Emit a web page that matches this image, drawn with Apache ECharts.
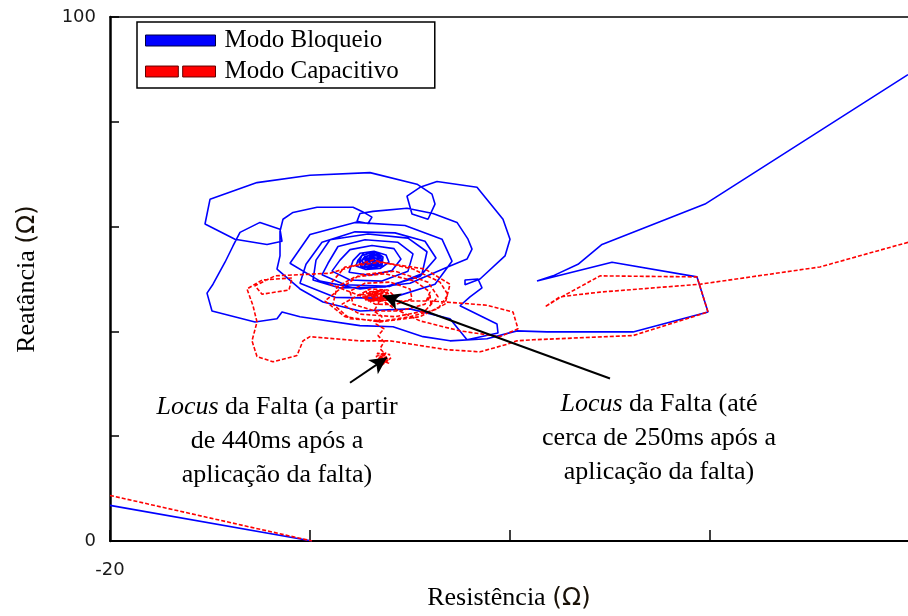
<!DOCTYPE html>
<html><head><meta charset="utf-8">
<script src="https://cdn.jsdelivr.net/npm/echarts@6/dist/echarts.min.js"></script>
<style>html,body{margin:0;padding:0;background:#fff}#c{width:908px;height:616px}</style>
</head><body><div id="c"></div>
<script>
// Axis ranges / ticks / tick labels
const xRange = [-20, 59.8];
const yRange = [0, 100];
const xTickValues = [-20, 0, 20, 40];
const yTickValues = [0, 20, 40, 60, 80, 100];
const xLabelsShown = [-20];
const yLabelsShown = [0, 100];
const seriesNames = ['Modo Bloqueio', 'Modo Capacitivo'];

// Modo Bloqueio (blue, solid) — impedance locus [R, X]
const blueMain = [
  [59.8, 89.0],[39.5, 64.3],[29.2, 56.6],[26.8, 52.8],[24.3, 50.6],[22.7, 49.6],
  [30.2, 53.2],[38.7, 50.4],[39.8, 43.7],[32.3, 39.9],[23.7, 39.9],[20.7, 40.1],
  [17.7, 38.6],[14.0, 38.2],[11.3, 39.0],[8.3, 40.9],[5.0, 41.1],[-1.0, 42.8],
  [-2.8, 43.7],[-3.3, 42.4],[-5.5, 41.8],[-9.8, 43.9],[-10.3, 47.3],[-9.7, 49.0],
  [-8.5, 53.2],[-7.7, 56.3],[-7.0, 58.9],[-5.0, 60.8],[-3.0, 59.5],[-2.8, 57.2],
  [-4.3, 56.6],[-7.5, 57.6],[-10.5, 60.5],[-10.0, 65.2],[-5.3, 68.4],[0.0, 69.8],
  [6.0, 70.3],[10.7, 68.1],[12.2, 66.2],[12.5, 64.3],[11.8, 61.4],[10.2, 62.4],
  [9.7, 65.8],[11.0, 67.5],[12.7, 68.6],[16.7, 67.5],[19.3, 61.4],[20.0, 57.6],
  [19.5, 54.4],[17.0, 50.0],[15.5, 48.9],[15.5, 49.8],[16.8, 50.0],[17.2, 48.3],
  [16.0, 46.6],[15.0, 44.9],[18.7, 41.4],[18.8, 39.7],[15.7, 38.4],[14.0, 42.4],
  [10.0, 44.3],[5.0, 43.9],[1.3, 45.6],[-1.0, 48.1],[-3.3, 51.9],[-3.0, 54.4],
  [-3.0, 59.1],[-2.7, 61.4],[-1.7, 62.7],[0.7, 63.7],[4.3, 63.7],[5.2, 62.9],
  [6.2, 61.8],[5.8, 60.6],[4.7, 61.0],[5.0, 62.5],[6.3, 62.9],[9.7, 63.5],
  [12.3, 62.5],[14.7, 60.8],[15.8, 57.6],[16.2, 55.7],[15.7, 53.8],[14.0, 52.5],
  [10.0, 49.2],[5.0, 48.1],[1.0, 49.6],
  [-2.0, 53.0],[0.0, 58.5],[4.5, 60.8],[9.5, 60.2],[13.2, 57.6],[14.2, 53.4],
  [12.5, 49.0],[8.0, 46.3],[2.5, 46.5],[-1.0, 49.2],
  [-0.4, 52.8],[1.2, 57.0],[4.5, 59.0],[8.5, 58.8],[11.5, 57.2],[12.6, 54.0],
  [11.0, 50.5],[7.5, 48.5],[3.0, 48.3],[0.3, 49.8],
  [0.6, 53.6],[2.0, 57.5],[5.8, 58.6],[9.8, 57.8],[11.7, 55.2],[11.2, 51.0],
  [8.0, 48.6],[3.5, 48.9],[1.2, 50.8],
  [1.8, 53.0],[2.8, 56.2],[5.5, 57.5],[8.8, 57.0],[10.3, 54.8],[9.8, 51.5],
  [7.2, 49.6],[4.0, 49.8],[2.2, 51.5],
  [3.0, 53.6],[4.0, 55.6],[6.2, 56.4],[8.4, 55.8],[9.1, 53.8],[8.2, 51.6],
  [6.0, 50.7],[3.9, 51.3],
  [4.3, 53.5],[5.0, 54.9],[6.4, 55.3],[7.6, 54.6],[7.9, 53.2],[7.0, 52.0],
  [5.6, 51.8],[4.6, 52.5],
  [4.8, 53.6],[5.4, 55.0],[6.6, 55.1],[7.3, 54.2],[7.2, 52.6],[6.2, 51.9],
  [5.1, 52.4],[4.9, 53.2],
  [4.9, 53.4],[5.2, 54.5],[6.0, 54.9],[6.9, 54.6],[7.2, 53.6],[7.0, 52.4],
  [6.1, 52.0],[5.2, 52.4],[5.0, 53.2],[5.5, 54.3],[6.4, 54.7],[7.1, 54.0],
  [7.1, 52.9],[6.4, 52.2],[5.5, 52.4],[5.2, 53.5],[5.8, 54.4],[6.7, 54.4],
  [7.0, 53.3],[6.5, 52.5],[5.7, 52.7],[5.5, 53.6],[6.1, 54.3],[6.7, 53.9],
  [6.7, 53.0],[6.0, 52.7],[5.7, 53.3],[6.1, 53.9],[6.5, 53.5],[6.2, 53.0],
  [5.2, 53.0],[6.8, 54.0],[5.3, 54.0],[6.9, 52.9],[5.8, 52.3],[6.3, 54.6],
  [5.5, 53.4],[6.8, 53.5],[5.9, 53.4],[6.2, 53.6],[5.4, 54.4],[6.9, 52.6],
  [5.0, 52.8],[7.2, 54.3],[6.0, 52.2],[6.0, 54.7]
];
const blueLow = [[-20, 6.8],[0.2, 0]];

// Modo Capacitivo (red, dashed)
const redMain = [
  [59.8, 57.0],[51.0, 52.3],[39.0, 49.0],[29.0, 47.5],[25.0, 46.6],[23.5, 44.7],
  [24.8, 46.2],[29.0, 50.6],[38.7, 50.4],[39.8, 43.7],[32.3, 39.2],[22.3, 38.4],
  [20.7, 38.2],[19.8, 37.6],[17.0, 36.1],[13.7, 36.5],[8.0, 38.2],[5.0, 38.2],
  [0.0, 39.0],[-0.7, 38.2],[-1.3, 35.4],[-3.7, 34.2],[-5.3, 35.2],[-5.8, 38.2],
  [-5.3, 41.8],[-5.7, 44.9],[-6.3, 48.1],[-4.8, 49.8],[-1.8, 50.2],[-2.1, 47.9],
  [-4.8, 47.1],[-5.5, 48.7],[-3.5, 50.6],[2.0, 51.1],[6.3, 53.6],[10.3, 51.9],
  [13.0, 49.4],[13.8, 47.0],[12.8, 44.3],[10.0, 42.8],[7.3, 42.0],[4.0, 42.4],
  [2.3, 45.2],[2.7, 48.5],[4.5, 50.4],[7.5, 51.0],[10.5, 49.6],[12.0, 47.5],
  [11.5, 45.2],[9.0, 43.9],[6.5, 43.9],[4.3, 45.2],[4.0, 47.7],[5.5, 49.2],
  [8.0, 49.4],[10.0, 48.1],[10.2, 46.2],[8.5, 45.1],[6.5, 45.2],[5.3, 46.6],
  [2.0, 49.0],[3.5, 52.3],[7.0, 53.2],[11.5, 51.9],[14.0, 49.0],[13.5, 45.2],
  [11.0, 42.8],[7.0, 41.8],[3.5, 42.8],[1.5, 45.8],
  [3.0, 48.1],[5.0, 50.8],[8.5, 51.5],[11.8, 49.4],[12.8, 46.6],[11.5, 43.9],
  [8.5, 42.8],[5.0, 43.3],[3.2, 45.2],
  [6.0, 48.1],[7.8, 47.9],[8.5, 46.6],[7.2, 45.8],[6.2, 46.6],[6.8, 47.3],
  [5.2, 46.5],[7.8, 47.5],[5.5, 47.6],[7.9, 46.0],[5.8, 45.8],[7.5, 47.9],
  [5.0, 47.0],[8.0, 46.7],[6.0, 45.6],[6.9, 48.0],[5.4, 46.0],[7.6, 46.4],
  [6.3, 47.8],[7.1, 45.7],[5.7, 47.2],[7.9, 47.2],[6.5, 46.2],
  [9.0, 45.8],[11.8, 45.8],[12.0, 47.0],[12.1, 45.0],[12.2, 45.8],[17.7, 45.0],
  [20.3, 43.7],[20.8, 40.5],[19.0, 39.0],[15.0, 40.1],[11.0, 42.0],[8.5, 44.3],
  [7.0, 46.2],
  [6.8, 45.2],[6.4, 43.9],[7.2, 42.8],[6.6, 41.4],[7.4, 40.5],[6.8, 39.2],
  [7.4, 38.0],[7.0, 36.7],[7.5, 35.7],[6.9, 34.8],[7.6, 34.2],[7.2, 33.6],
  [6.6, 34.0],[8.0, 35.6],[6.7, 35.8],[7.9, 33.9],[6.8, 34.8],[8.1, 34.9],
  [7.0, 33.6],[7.6, 36.0],[6.6, 35.2],[7.9, 34.3],[7.2, 35.5],[7.4, 33.8],
  [7.0, 34.6],[7.7, 35.1]
];
const redLow = [[-20, 8.7],[0.2, 0]];

// Annotation arrows [from, to] in data units
const arrowLate = [[4.0, 30.2],[7.7, 35.0]];
const arrowEarly = [[30.0, 31.0],[7.3, 46.8]];

const serif = 'Liberation Serif';
const chart = echarts.init(document.getElementById('c'));

const blueStyle = {color:'#0000ff', width:1.6, type:'solid'};
const redStyle = {color:'#ff0000', width:1.6, type:[4,2]};
const arrowLine = (a) => [{coord:a[0]}, {coord:a[1]}];

chart.setOption({
  animation:false,
  backgroundColor:'#fff',
  grid:{left:110, right:0, top:17, bottom:73, containLabel:false},
  legend:{
    left:137, top:22, orient:'vertical', itemGap:6,
    padding:[6,36,4,8],
    borderColor:'#000', borderWidth:1.5,
    itemWidth:70, itemHeight:11,
    textStyle:{fontFamily:serif, fontSize:25, color:'#000', padding:[0,0,0,4]},
    data:[
      {name:seriesNames[0], icon:'rect', itemStyle:{color:'#0000ff', borderColor:'#000040', borderWidth:1}},
      {name:seriesNames[1], icon:'path://M0,0H30V10H0Z M34,0H64V10H34Z', itemStyle:{color:'#ff0000', borderColor:'#600000', borderWidth:1}}
    ]
  },
  xAxis:[{
    type:'value', min:xRange[0], max:xRange[1], interval:20,
    name:'Resistência {o|(Ω)}', nameLocation:'middle', nameGap:44,
    nameTextStyle:{fontFamily:serif, fontSize:26, color:'#000',
      rich:{o:{fontFamily:'DejaVu Sans', fontSize:25, color:'#1a1208'}}},
    axisLine:{show:true, onZero:false, lineStyle:{color:'#000', width:2}},
    axisTick:{show:true, inside:true, length:11, customValues:xTickValues, lineStyle:{color:'#000', width:1.5}},
    axisLabel:{margin:20, fontFamily:'DejaVu Sans', fontSize:18, color:'#1a1a1a', customValues:xLabelsShown},
    splitLine:{show:false}
  },{
    type:'value', position:'top', min:xRange[0], max:xRange[1],
    axisLine:{show:true, onZero:false, lineStyle:{color:'#000', width:1.5}},
    axisTick:{show:false}, axisLabel:{show:false}, splitLine:{show:false}
  }],
  yAxis:{
    type:'value', min:yRange[0], max:yRange[1], interval:20,
    name:'Reatância {o|(Ω)}', nameLocation:'middle', nameGap:70, nameRotate:90,
    nameTextStyle:{fontFamily:serif, fontSize:26, color:'#000',
      rich:{o:{fontFamily:'DejaVu Sans', fontSize:25, color:'#1a1208'}}},
    axisLine:{show:true, onZero:false, lineStyle:{color:'#000', width:2.5}},
    axisTick:{show:true, inside:true, length:9, customValues:yTickValues, lineStyle:{color:'#000', width:1.5}},
    axisLabel:{margin:14, fontFamily:'DejaVu Sans', fontSize:18, color:'#1a1a1a', customValues:yLabelsShown},
    splitLine:{show:false}
  },
  series:[
    {name:seriesNames[0], type:'line', data:blueMain, showSymbol:false, symbol:'none', lineStyle:blueStyle, itemStyle:{color:'#0000ff'}, z:3},
    {name:seriesNames[0], type:'line', data:blueLow, showSymbol:false, symbol:'none', lineStyle:blueStyle, itemStyle:{color:'#0000ff'}, z:3},
    {name:seriesNames[1], type:'line', data:redMain, showSymbol:false, symbol:'none', lineStyle:redStyle, itemStyle:{color:'#ff0000'}, z:4,
      markLine:{silent:true, symbol:['none','arrow'], symbolSize:[13,17], label:{show:false},
        lineStyle:{color:'#000', width:2, type:'solid'},
        data:[arrowLine(arrowLate), arrowLine(arrowEarly)]}},
    {name:seriesNames[1], type:'line', data:redLow, showSymbol:false, symbol:'none', lineStyle:redStyle, itemStyle:{color:'#ff0000'}, z:4}
  ],
  graphic:[
    {type:'text', x:277, y:390, z:10, style:{
      text:'{i|Locus} da Falta (a partir\nde 440ms após a\naplicação da falta)',
      align:'center', verticalAlign:'top', fontFamily:serif, fontSize:26, lineHeight:34, fill:'#000',
      rich:{i:{fontFamily:serif, fontStyle:'italic', fontSize:26, lineHeight:34}}}},
    {type:'text', x:659, y:387, z:10, style:{
      text:'{i|Locus} da Falta (até\ncerca de 250ms após a\naplicação da falta)',
      align:'center', verticalAlign:'top', fontFamily:serif, fontSize:26, lineHeight:34, fill:'#000',
      rich:{i:{fontFamily:serif, fontStyle:'italic', fontSize:26, lineHeight:34}}}}
  ]
});
</script></body></html>
